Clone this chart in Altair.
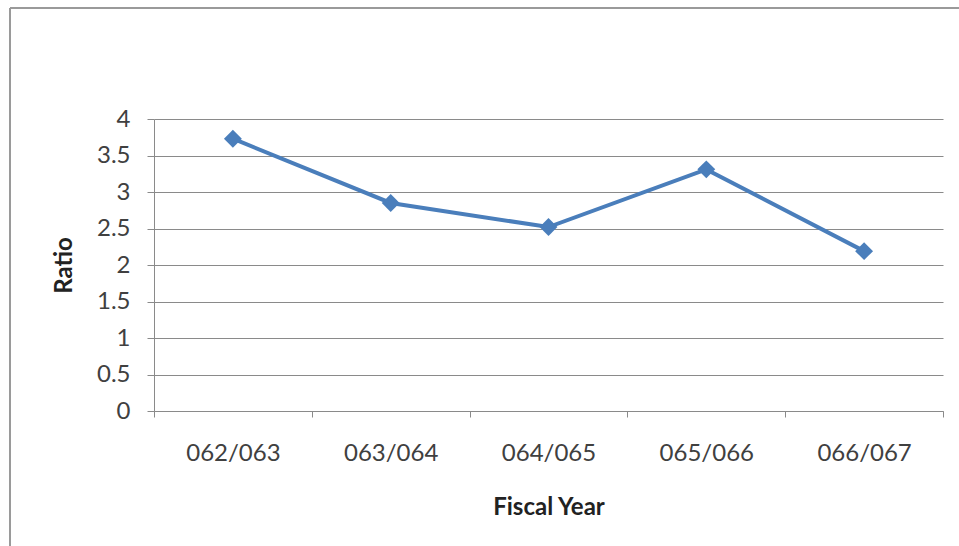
import altair as alt
import pandas as pd

# Fiscal-year ratio series
years = ["062/063", "063/064", "064/065", "065/066", "066/067"]
ratios = [3.73, 2.85, 2.52, 3.31, 2.19]
y_ticks = [0, 0.5, 1, 1.5, 2, 2.5, 3, 3.5, 4]

df = pd.DataFrame({"year": years, "ratio": ratios})

FONT = "Lato"
TEXT = "#404040"
GRID = "#8a8a8a"
BLUE = "#4a7ebb"

x_enc = alt.X(
    "year:N",
    sort=years,
    title="Fiscal Year",
    scale=alt.Scale(paddingInner=0, paddingOuter=0),
    axis=alt.Axis(
        labelAngle=0,
        labelFont=FONT,
        labelFontSize=24,
        labelColor=TEXT,
        labelPadding=24,
        tickBand="extent",
        tickSize=6,
        tickColor=GRID,
        domainColor=GRID,
        grid=False,
        titleFont=FONT,
        titleFontSize=24,
        titleFontWeight="bold",
        titleColor="#222222",
        titlePadding=30,
    ),
)
y_enc = alt.Y(
    "ratio:Q",
    title="Ratio",
    scale=alt.Scale(domain=[0, 4], nice=False),
    axis=alt.Axis(
        values=y_ticks,
        format="~g",
        labelFont=FONT,
        labelFontSize=24,
        labelColor=TEXT,
        labelPadding=17,
        tickSize=7,
        tickColor=GRID,
        domainColor=GRID,
        gridColor=GRID,
        gridWidth=1,
        titleFont=FONT,
        titleFontSize=24,
        titleFontWeight="bold",
        titleColor="#222222",
        titlePadding=20,
    ),
)

line = alt.Chart(df).mark_line(
    color=BLUE,
    strokeWidth=4,
    point=alt.OverlayMarkDef(shape="diamond", size=320, filled=True, color=BLUE, opacity=1),
).encode(x=x_enc, y=y_enc)

# Outer chart frame: top and left edges
frame_top = alt.Chart(df).mark_rule(color="#9a9a9a", strokeWidth=2).encode(
    x=alt.value(-144), x2=alt.value(805), y=alt.value(-111)
)
frame_left = alt.Chart(df).mark_rule(color="#9a9a9a", strokeWidth=2).encode(
    x=alt.value(-144), y=alt.value(-111), y2=alt.value(427)
)

chart = (
    alt.layer(line, frame_top, frame_left)
    .properties(
        width=789,
        height=292,
        autosize=alt.AutoSizeParams(type="none"),
        padding={"left": 154, "top": 119, "right": 16, "bottom": 135},
        background="white",
    )
    .configure_view(stroke=None)
)

chart.save("out.html", embed_options={"renderer": "svg", "actions": False})
